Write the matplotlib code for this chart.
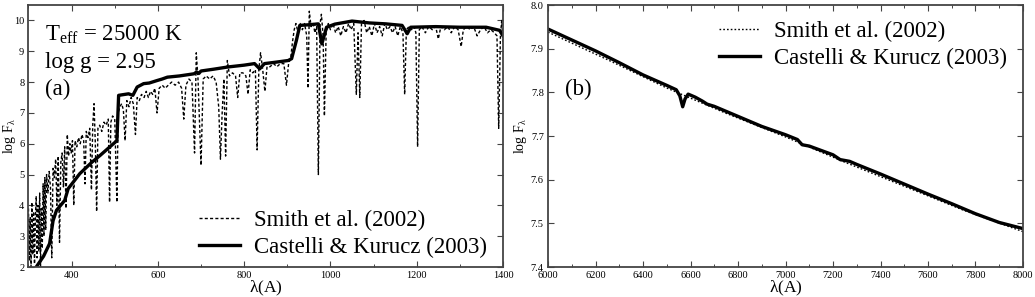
import matplotlib
matplotlib.use("Agg")
import matplotlib.pyplot as plt
from matplotlib.ticker import MultipleLocator, FormatStrFormatter

plt.rcParams['font.family'] = ['Liberation Serif', 'DejaVu Serif']
plt.rcParams['mathtext.fontset'] = 'custom'
plt.rcParams['mathtext.rm'] = 'Liberation Serif'
plt.rcParams['mathtext.it'] = 'Liberation Serif'

# ---- Panel (a): far-UV ----
smith_a_wl = [300, 302, 304, 306, 308, 310, 312, 314, 316, 318, 320, 322, 324, 326, 328, 330, 332, 334, 336, 338,
              340, 342, 345, 348, 351, 354, 357, 360, 363, 366, 369, 372, 375, 378, 381, 384, 387, 390, 393, 396,
              399, 402, 405, 408, 412, 416, 420, 424, 428, 431, 434, 438, 442, 446, 449, 452, 455, 458, 461, 465,
              470, 475, 480, 485, 488, 491, 495, 500, 505, 508, 512, 516, 520, 524, 528, 533, 538, 543, 548, 552,
              557, 562, 568, 573, 578, 583, 588, 593, 598, 603, 610, 617, 624, 632, 640, 648, 655, 660, 665, 672,
              679, 685, 689, 693, 700, 705, 712, 720, 728, 735, 741, 745, 749, 753, 757, 761, 766, 773, 780, 785,
              790, 797, 804, 809, 814, 820, 826, 830, 834, 838, 843, 848, 853, 860, 868, 876, 884, 892, 898, 903,
              908, 912, 916, 920, 925, 930, 935, 940, 945, 948, 951, 955, 960, 964, 968, 972, 976, 979, 983, 986,
              990, 995, 1000, 1006, 1012, 1018, 1024, 1030, 1036, 1042, 1048, 1054, 1060, 1064, 1068, 1072, 1078,
              1084, 1090, 1096, 1102, 1108, 1114, 1120, 1126, 1132, 1138, 1144, 1150, 1156, 1162, 1168, 1172, 1176,
              1182, 1188, 1194, 1198, 1202, 1206, 1212, 1220, 1228, 1236, 1244, 1250, 1256, 1264, 1272, 1280, 1288,
              1296, 1303, 1308, 1316, 1324, 1332, 1340, 1348, 1356, 1364, 1372, 1380, 1386, 1390, 1394, 1397, 1400]
smith_a_flux = [3.9, 2.2, 3.6, 2.0, 4.1, 2.4, 3.8, 2.1, 3.5, 4.3, 2.3, 4.0, 2.5, 4.4, 2.0, 3.9, 2.6, 4.7, 3.0, 4.9,
                3.2, 5.0, 4.4, 5.1, 4.6, 2.3, 5.2, 4.9, 5.5, 4.0, 5.6, 2.8, 5.4, 5.7, 4.6, 5.9, 3.9, 6.3, 5.6, 6.0,
                5.7, 6.1, 4.0, 6.1, 5.9, 6.2, 6.0, 6.3, 6.1, 4.7, 6.4, 6.2, 6.5, 4.5, 6.6, 7.3, 6.0, 3.8, 6.5, 6.6,
                6.4, 6.7, 6.6, 6.8, 4.1, 6.7, 6.9, 6.8, 4.1, 7.0, 7.2, 7.3, 7.1, 6.1, 7.4, 7.2, 7.5, 7.3, 6.3, 7.5,
                7.4, 7.6, 7.5, 7.7, 7.5, 7.7, 7.6, 7.8, 7.0, 7.8, 7.9, 7.8, 7.9, 8.0, 7.9, 8.0, 7.8, 6.8, 7.9, 8.1,
                8.0, 5.7, 8.95, 8.1, 5.3, 8.1, 8.2, 8.1, 8.2, 8.0, 7.2, 5.5, 7.0, 8.1, 5.6, 8.7, 8.2, 8.3, 8.2, 7.5,
                8.3, 8.3, 8.2, 7.6, 8.4, 8.3, 8.4, 5.8, 8.4, 8.95, 8.4, 7.7, 8.5, 8.5, 8.6, 8.5, 8.6, 8.6, 7.9, 8.6,
                8.8, 9.3, 9.7, 9.9, 9.6, 9.9, 9.7, 9.9, 9.5, 7.8, 10.3, 9.8, 9.9, 9.6, 9.8, 5.0, 9.9, 10.2, 9.5, 6.9,
                9.6, 9.9, 9.7, 9.9, 9.6, 9.8, 9.5, 9.8, 9.6, 9.9, 9.7, 9.9, 7.6, 9.6, 7.5, 9.9, 10.0,
                9.6, 9.8, 9.5, 9.9, 9.6, 9.8, 9.5, 9.9, 9.7, 9.8, 9.6, 9.8, 9.5, 9.8, 9.6, 7.6, 9.7,
                9.8, 9.7, 9.8, 9.6, 5.9, 9.7, 9.8, 9.6, 9.8, 9.7, 9.8, 9.4, 9.8, 9.7, 9.8, 9.6, 9.8,
                9.7, 9.15, 9.7, 9.8, 9.7, 9.8, 9.5, 9.7, 9.8, 9.6, 9.7, 9.6, 9.5, 6.5, 9.5, 10.0, 9.3]

ck_a_wl = [300, 318, 335, 349, 357, 365, 384, 392, 419, 447, 466, 501, 505, 509, 532, 542, 552, 567, 580, 598, 610,
           622, 650, 684, 690, 695, 700, 730, 762, 800, 824, 836, 847, 870, 902, 910, 921, 929, 950, 965, 972, 980,
           991, 1010, 1050, 1090, 1128, 1166, 1178, 1186, 1244, 1300, 1361, 1392, 1400]
ck_a_flux = [1.5, 2.0, 2.35, 2.76, 3.5, 3.84, 4.16, 4.54, 5.03, 5.4, 5.62, 6.05, 6.1, 7.57, 7.62, 7.57, 7.84, 7.95,
             7.97, 8.05, 8.1, 8.16, 8.2, 8.27, 8.33, 8.28, 8.36, 8.42, 8.49, 8.55, 8.6, 8.43, 8.6, 8.64, 8.70, 8.76,
             9.35, 9.84, 9.86, 9.88, 9.89, 9.24, 9.78, 9.88, 9.98, 9.92, 9.89, 9.84, 9.57, 9.78, 9.8, 9.78, 9.78,
             9.68, 9.5]

# ---- Panel (b): optical ----
smith_b_wl = [6000, 6250, 6500, 6750, 7000, 7250, 7500, 7750, 8000]
smith_b_flux = [7.938, 7.875, 7.810, 7.752, 7.698, 7.640, 7.585, 7.530, 7.481]

ck_b_wl = [6000, 6100, 6200, 6300, 6400, 6500, 6540, 6555, 6567, 6577, 6590, 6620, 6650, 6670, 6700, 6800, 6900,
           7000, 7050, 7070, 7100, 7200, 7230, 7270, 7300, 7400, 7500, 7600, 7700, 7800, 7900, 8000]
ck_b_flux = [7.945, 7.920, 7.895, 7.868, 7.840, 7.816, 7.806, 7.792, 7.767, 7.785, 7.796, 7.789, 7.780, 7.773,
             7.768, 7.745, 7.722, 7.703, 7.692, 7.680, 7.677, 7.657, 7.646, 7.642, 7.635, 7.613, 7.590, 7.567,
             7.545, 7.522, 7.502, 7.488]

label_smith = "Smith et al. (2002)"
label_ck = "Castelli & Kurucz (2003)"

FS = 16.5
fig = plt.figure(figsize=(10.35, 2.97), dpi=100)
axa = fig.add_axes([0.0275, 0.101, 0.4585, 0.882])
axb = fig.add_axes([0.5295, 0.101, 0.4589, 0.882])

dash = (0, (2.2, 1.6))
for ax in (axa, axb):
    for sp in ax.spines.values():
        sp.set_linewidth(1.3)
        sp.set_color('#444444')
    ax.tick_params(direction='in', top=True, right=True, length=4, width=0.8,
                   labelsize=7.5, pad=3, color='#444444')
    ax.tick_params(which='minor', direction='in', top=True, right=True, length=2.5, width=0.7, color='#444444')
    ax.set_xlabel(r"$\lambda$(A)", fontsize=12.5, labelpad=-1)
    ax.set_ylabel(r"log F$_\lambda$", fontsize=10)
axa.yaxis.set_label_coords(-0.023, 0.5)
axb.yaxis.set_label_coords(-0.040, 0.5)

axa.plot(smith_a_wl, smith_a_flux, color='black', lw=1.0, ls=dash, label=label_smith)
axa.plot(ck_a_wl, ck_a_flux, color='black', lw=2.4, label=label_ck, solid_joinstyle='round')
axa.set_xlim(300, 1400)
axa.set_ylim(2, 10.5)
axa.xaxis.set_major_locator(MultipleLocator(200))
axa.xaxis.set_minor_locator(MultipleLocator(100))
axa.yaxis.set_major_locator(MultipleLocator(1))
axa.legend(loc='lower right', bbox_to_anchor=(0.966, 0.035), frameon=False, fontsize=FS,
           handlelength=1.8, handletextpad=0.6, labelspacing=0.26, borderaxespad=0, borderpad=0)
axa.text(0.035, 0.885, r"T$_{\rm eff}$ = 25000 K", transform=axa.transAxes, fontsize=FS, va='center')
axa.text(0.035, 0.779, "log g = 2.95", transform=axa.transAxes, fontsize=FS, va='center')
axa.text(0.035, 0.676, "(a)", transform=axa.transAxes, fontsize=FS, va='center')

axb.plot(smith_b_wl, smith_b_flux, color='black', lw=1.0, ls=(0, (1.2, 1.5)), label=label_smith)
axb.plot(ck_b_wl, ck_b_flux, color='black', lw=2.4, label=label_ck, solid_joinstyle='round')
axb.set_xlim(6000, 8000)
axb.set_ylim(7.4, 8.0)
axb.xaxis.set_major_locator(MultipleLocator(200))
axb.xaxis.set_minor_locator(MultipleLocator(100))
axb.yaxis.set_major_locator(MultipleLocator(0.1))
axb.yaxis.set_major_formatter(FormatStrFormatter('%.1f'))
axb.legend(loc='upper right', bbox_to_anchor=(0.966, 0.94), frameon=False, fontsize=FS,
           handlelength=1.8, handletextpad=0.6, labelspacing=0.26, borderaxespad=0, borderpad=0)
axb.text(0.036, 0.676, "(b)", transform=axb.transAxes, fontsize=FS, va='center')

fig.savefig("out.png", dpi=100)
